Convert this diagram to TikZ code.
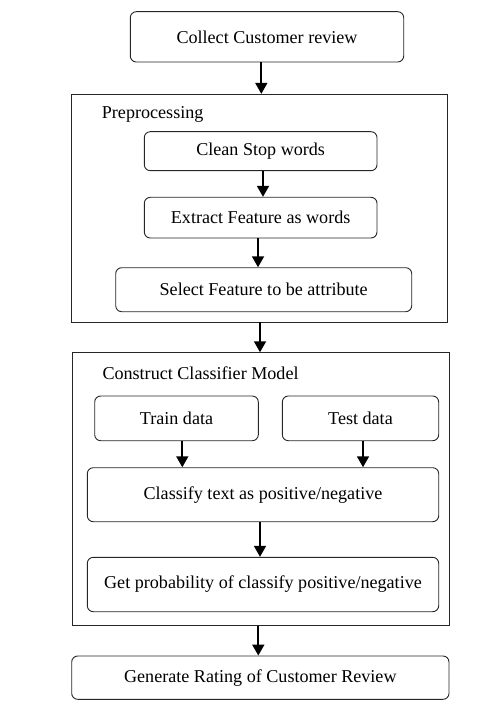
\documentclass[tikz,border=0pt]{standalone}
\usepackage{fontspec}
\setmainfont{Liberation Serif}
\usetikzlibrary{arrows.meta}
\begin{document}
\begin{tikzpicture}[x=1pt,y=-1pt,
  stepbox/.style={draw=black!85,line width=0.9pt,rounded corners=6pt,inner sep=0pt,align=center,font=\fontsize{18.1}{20}\selectfont},
  groupbox/.style={draw=black!85,line width=0.9pt,inner sep=0pt},
  grouplabel/.style={anchor=base west,inner sep=0pt,font=\fontsize{18.1}{20}\selectfont},
  arr/.style={line width=1.8pt,-{Triangle[width=12pt,length=11pt]}}]
\useasboundingbox (0,0) rectangle (491,708);
\node[groupbox,minimum width=376.7pt,minimum height=227.7pt] (prep) at (259.35,208.15) {};
\node[groupbox,minimum width=377pt,minimum height=272.6pt] (cons) at (260.8,489) {};
\node[grouplabel] (preplab) at (101.7,119) {Preprocessing};
\node[grouplabel] (conslab) at (102.3,379.3) {Construct Classifier Model};
\node[stepbox,minimum width=273.4pt,minimum height=50.3pt] (collect) at (267,36.85) {Collect Customer review};
\node[stepbox,minimum width=232.7pt,minimum height=39pt] (clean) at (260.65,151.2) {Clean Stop words};
\node[stepbox,minimum width=232.7pt,minimum height=40.7pt] (extract) at (260.65,217.65) {Extract Feature as words};
\node[stepbox,minimum width=296pt,minimum height=44pt] (select) at (263.7,289.7) {Select Feature to be attribute};
\node[stepbox,minimum width=163.6pt,minimum height=44.7pt] (train) at (176.5,418.35) {Train data};
\node[stepbox,minimum width=156.4pt,minimum height=44.7pt] (test) at (360.5,418.35) {Test data};
\node[stepbox,minimum width=351.4pt,minimum height=54pt] (classify) at (263,494.7) {Classify text as positive/negative};
\node[stepbox,minimum width=351.4pt,minimum height=54.4pt] (prob) at (263,584.5) {Get probability of classify positive/negative};
\node[stepbox,minimum width=377.3pt,minimum height=43.3pt] (gen) at (260.35,677.65) {Generate Rating of Customer Review};
\draw[arr] ([xshift=-5.7]collect.south) -- ([xshift=-5.7]collect.south |- prep.north);
\draw[arr] ([xshift=2.35]clean.south) -- ([xshift=2.35]clean.south |- extract.north);
\draw[arr] ([xshift=-2.65]extract.south) -- ([xshift=-2.65]extract.south |- select.north);
\draw[arr] ([xshift=0.65]prep.south) -- ([xshift=0.65]prep.south |- cons.north);
\draw[arr] ([xshift=5.8]train.south) -- ([xshift=5.8]train.south |- classify.north);
\draw[arr] ([xshift=2.5]test.south) -- ([xshift=2.5]test.south |- classify.north);
\draw[arr] ([xshift=-3]classify.south) -- ([xshift=-3]classify.south |- prob.north);
\draw[arr] ([xshift=-2.5]cons.south) -- ([xshift=-2.5]cons.south |- gen.north);
\end{tikzpicture}
\end{document}
